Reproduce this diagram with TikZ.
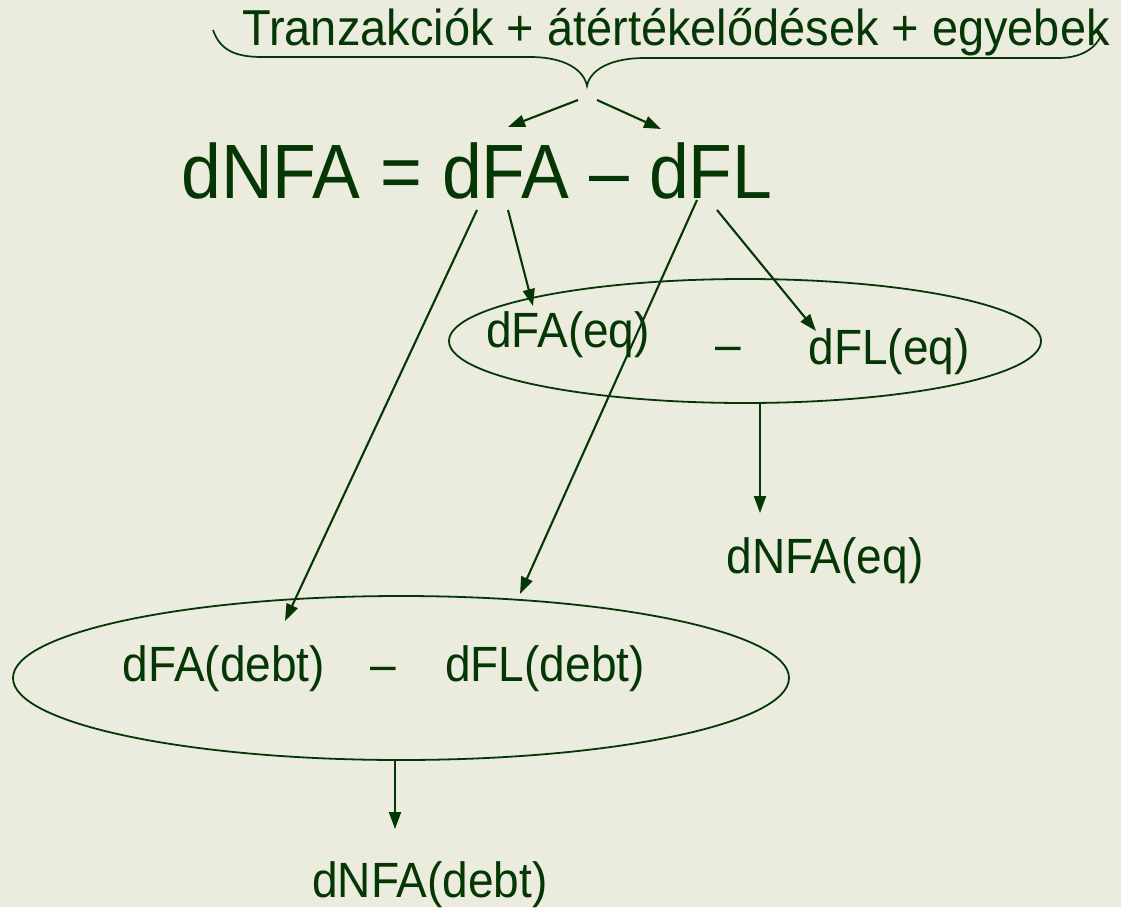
\documentclass[tikz,border=0pt]{standalone}
\usepackage{fontspec}
\setmainfont[FakeStretch=0.93]{Liberation Sans}
\usetikzlibrary{arrows.meta,shapes.geometric}
\definecolor{bg}{RGB}{235,235,222}
\definecolor{ink}{RGB}{5,55,5}
\tikzset{
  txt/.style={anchor=base,inner sep=0pt,text=ink,font=\fontsize{49.5}{56}\selectfont},
  bigtxt/.style={anchor=base,inner sep=0pt,text=ink,font=\fontsize{77}{84}\selectfont},
  conn/.style={draw=ink,line width=2.1pt,-{Triangle[length=17pt,width=12pt]}},
  ell/.style={draw=ink,line width=1.8pt,ellipse,inner sep=0pt}
}
\begin{document}
\begin{tikzpicture}[x=1pt,y=-1pt]
\useasboundingbox (0,0) rectangle (1121,907);
\fill[bg] (0,0) rectangle (1121,907);
% top text and brace
\node[txt,font=\fontsize{50.5}{56}\selectfont] (top) at (676,46) {Tranzakciók + átértékelődések + egyebek};
\draw[ink,line width=1.7pt] (213,30) .. controls (220,50) and (235,57) .. (262,57) -- (530,57)
  .. controls (565,57) and (584,70) .. (587,86)
  .. controls (590,70) and (610,58) .. (645,58) -- (1058,58)
  .. controls (1082,58) and (1096,48) .. (1102,34);
\coordinate (tl) at (578,100);
\coordinate (tr) at (597,100);
% equation
\node[bigtxt] (eq) at (477,198) {dNFA = dFA -- dFL};
\coordinate (fa1) at (477,210);
\coordinate (fa2) at (508,210);
\coordinate (fl1) at (697,200);
\coordinate (fl2) at (717,210);
\coordinate (eqL) at (508,127);
\coordinate (eqR) at (661,129);
\draw[conn] (tl) -- (eqL);
\draw[conn] (tr) -- (eqR);
% upper ellipse
\node[ell,minimum width=592pt,minimum height=124pt] (E1) at (745,341) {};
\node[txt] (fae) at (568,347) {dFA(eq)};
\node[txt] (me) at (728,361) {--};
\node[txt] (fle) at (889,364) {dFL(eq)};
\node[txt] (nfae) at (825,573) {dNFA(eq)};
% lower ellipse
\node[ell,minimum width=776pt,minimum height=164pt] (E2) at (401,678) {};
\node[txt] (fad) at (224,681) {dFA(debt)};
\node[txt] (md) at (383,681) {--};
\node[txt] (fld) at (545,681) {dFL(debt)};
\node[txt] (nfad) at (430,897) {dNFA(debt)};
% connectors
\draw[conn] (fa2) -- (533,306);
\draw[conn] (fl2) -- (816,331);
\draw[conn] (fa1) -- (285,621);
\draw[conn] (fl1) -- (520,594);
\draw[conn] (E1.south) ++(15,0) coordinate (e1s) -- (760,513);
\draw[conn] (E2.south) ++(-6,0) coordinate (e2s) -- (395,829);
\end{tikzpicture}
\end{document}
